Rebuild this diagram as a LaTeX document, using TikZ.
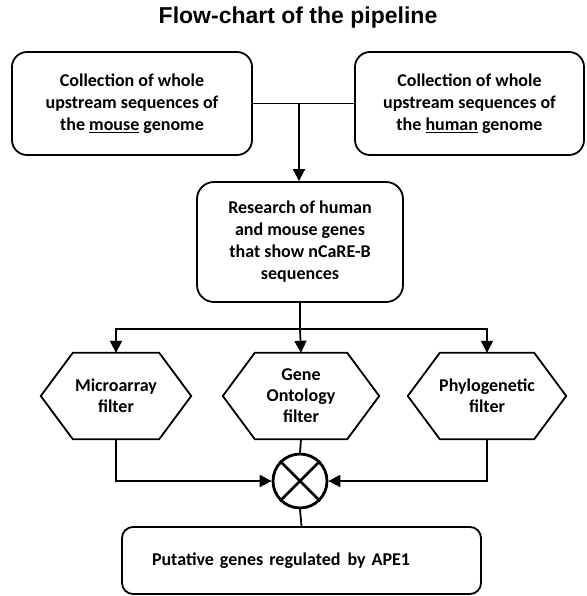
\documentclass[tikz,border=0pt]{standalone}
\usepackage{fontspec}
\newfontfamily\boxfont{Carlito}
\newfontfamily\titlefont{Liberation Sans}
\usetikzlibrary{arrows.meta}
\tikzset{
    box/.style={draw,line width=1.8pt,rounded corners=15pt,align=center,
        font=\boxfont\bfseries\fontsize{18}{22}\selectfont,inner sep=0pt},
    hexa/.style={minimum height=86pt,align=center,inner sep=0pt,
        font=\boxfont\bfseries\fontsize{18}{21}\selectfont},
    line/.style={line width=1.8pt},
    arr/.style={line width=1.8pt,-{Triangle[length=12pt,width=12pt]}}
}
\begin{document}
\begin{tikzpicture}[x=1pt,y=-1pt]
            \useasboundingbox (0,0) rectangle (586,596);
            \node[font=\titlefont\bfseries\fontsize{23}{27}\selectfont] (title) at (298,18) {Flow-chart of the pipeline};
            \node[box,minimum width=240pt,minimum height=103pt] (mouse) at (132,103.5) {Collection of whole\\upstream sequences of\\the \underline{mouse} genome};
            \node[box,minimum width=229pt,minimum height=103pt] (human) at (469.5,103.5) {Collection of whole\\upstream sequences of\\the \underline{human} genome};
            \node[box,minimum width=206pt,minimum height=120pt,rounded corners=17pt] (research) at (300,242) {Research of human\\and mouse genes\\that show nCaRE-B\\sequences};
            \node[hexa,minimum width=150pt] (micro) at (116,396) {Microarray\\filter};
            \node[hexa,minimum width=156pt] (gene) at (301,396) {Gene\\Ontology\\filter};
            \node[hexa,minimum width=158pt] (phylo) at (487,396) {Phylogenetic\\filter};
            \node[circle,draw,line width=2.8pt,minimum size=54pt,inner sep=0pt] (cross) at (300,481) {};
            \node[box,minimum width=359pt,minimum height=67pt,rounded corners=11pt,text width=299pt,inner xsep=30pt,align=left] (putative) at (301.5,560.5) {Putative genes regulated\hspace{7pt}by APE1};
            \foreach \n in {micro,gene,phylo}
                \draw[line] ([xshift=32pt]\n.north west)--([xshift=-32pt]\n.north east)--(\n.east)--([xshift=-32pt]\n.south east)--([xshift=32pt]\n.south west)--(\n.west)--cycle;
            \draw[line width=2.8pt] (cross.north west)--(cross.south east) (cross.north east)--(cross.south west);
            \coordinate (join) at (299,103.5);
            \coordinate (split) at (300,329);
            \draw[line] (mouse.east)--(human.west);
            \draw[arr] (join)--(join|-research.north);
            \draw[line] (research.south)--(split);
            \draw[arr] (split)-|(micro.north);
            \draw[arr] (split)-|(phylo.north);
            \draw[arr] (split)--(gene.north);
            \draw[arr] (micro.south)|-(cross.west);
            \draw[arr] (phylo.south)|-(cross.east);
            \draw[line] (gene.south)--(cross.north);
            \draw[line] (cross.south)--(putative.north);
        \end{tikzpicture}
\end{document}
